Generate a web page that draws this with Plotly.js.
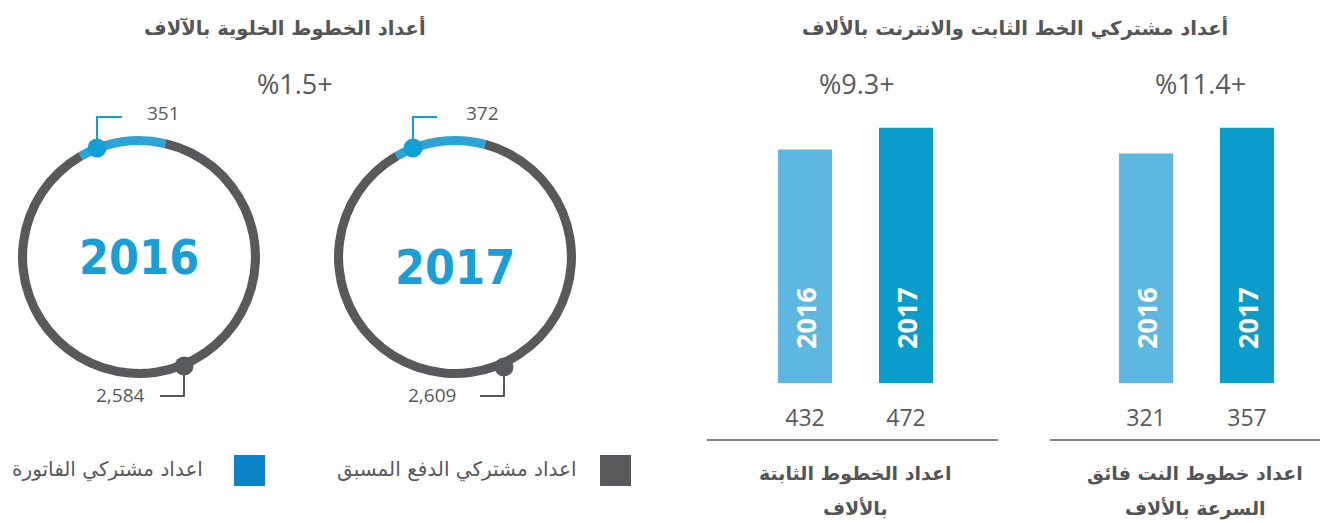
<!DOCTYPE html>
<html>
<head>
<meta charset="utf-8">
<script src="https://cdn.plot.ly/plotly-3.0.1.min.js"></script>
<style>html,body{margin:0;padding:0;background:#fff;}#chart{width:1320px;height:523px;}</style>
</head>
<body>
<div id="chart"></div>
<script>
// ---- data ----
const years = ['2016', '2017'];
const postpaidSubs = [351, 372];        // اعداد مشتركي الفاتورة (blue)
const prepaidSubs = [2584, 2609];       // اعداد مشتركي الدفع المسبق (grey)
const postpaidLabels = ['351', '372'];
const prepaidLabels = ['2,584', '2,609'];
const fixedLines = [432, 472];          // اعداد الخطوط الثابتة
const broadband = [321, 357];           // اعداد خطوط النت فائق السرعة
const sliceNames = ['اعداد مشتركي الفاتورة', 'اعداد مشتركي الدفع المسبق'];
const mobileTitle = 'أعداد الخطوط الخلوية بالآلاف';
const fixedTitle = 'أعداد مشتركي الخط الثابت والانترنت بالألاف';
const mobileChange = '%1.5+';
const fixedChange = '%9.3+';
const bbChange = '%11.4+';
const fixedCatLine1 = 'اعداد الخطوط الثابتة';
const fixedCatLine2 = 'بالألاف';
const bbCatLine1 = 'اعداد خطوط النت فائق';
const bbCatLine2 = 'السرعة بالألاف';

// ---- layout helpers (pixel -> paper) ----
const W = 1320, H = 523;
const px = x => x / W;
const py = y => 1 - y / H;

const GREY = '#58595b';
const TXT = '#58595b';
const ARC = '#2ea3d5';
const DOT = '#119fd6';
const font = 'Open Sans, DejaVu Sans, sans-serif';
const arFont = 'DejaVu Sans, Noto Sans, sans-serif';

const donutCenters = [[139, 257], [455, 257]];
const R = 121;

const traces = [];
years.forEach((yr, i) => {
  const [cx, cy] = donutCenters[i];
  traces.push({
    type: 'pie',
    values: [postpaidSubs[i], prepaidSubs[i]],
    labels: sliceNames,
    sort: false,
    direction: 'clockwise',
    rotation: -30,
    hole: 0.925,
    textinfo: 'none',
    hoverinfo: 'label+value',
    marker: {colors: [ARC, GREY], line: {width: 0}},
    domain: {x: [px(cx - R), px(cx + R)], y: [py(cy + R), py(cy - R)]},
    showlegend: false
  });
});

traces.push({
  type: 'bar', x: years, y: fixedLines, xaxis: 'x', yaxis: 'y',
  marker: {color: ['#5cb8e0', '#0b9dc9']}, hoverinfo: 'x+y', showlegend: false
});
traces.push({
  type: 'bar', x: years, y: broadband, xaxis: 'x2', yaxis: 'y2',
  marker: {color: ['#5cb8e0', '#0b9dc9']}, hoverinfo: 'x+y', showlegend: false
});

const barX = (ticktext, d0, d1) => ({
  domain: [px(d0), px(d1)], type: 'category', categoryarray: years, range: [-0.5, 1.5],
  tickvals: years, ticktext: ticktext,
  tickfont: {family: font, size: 23, color: TXT}, ticklabelstandoff: 19,
  showgrid: false, zeroline: false, showline: false, ticks: '', fixedrange: true
});
const barY = (max) => ({
  domain: [py(383), py(110)], range: [0, max], visible: false, fixedrange: true
});

const shapes = [];
const annotations = [];
const ann = (x, y, text, f, extra) => Object.assign({xref: 'paper', yref: 'paper', x: px(x), y: py(y), xanchor: 'center', yanchor: 'middle', text: text, showarrow: false, font: f}, extra || {});

// separator lines under bar groups
shapes.push({type: 'line', xref: 'paper', yref: 'paper', x0: px(707), x1: px(998), y0: py(440), y1: py(440), line: {color: GREY, width: 1.5}});
shapes.push({type: 'line', xref: 'paper', yref: 'paper', x0: px(1050), x1: px(1320), y0: py(440), y1: py(440), line: {color: GREY, width: 1.5}});

// donut callouts
const calloutDefs = [
  {blue: [97, 148], bend: 117, bEnd: 122, dark: [184, 366], dBend: 396, dEnd: 160, bLab: [163, 113], dLab: [121, 395]},
  {blue: [413, 148], bend: 117, bEnd: 437, dark: [504, 367], dBend: 396, dEnd: 480, bLab: [482, 113], dLab: [432, 395]}
];
const circ = (x, y, r, c) => ({type: 'circle', xref: 'paper', yref: 'paper', x0: px(x - r), x1: px(x + r), y0: py(y + r), y1: py(y - r), fillcolor: c, line: {width: 0}});
const pline = (pts, c) => ({type: 'path', xref: 'paper', yref: 'paper',
  path: 'M' + pts.map(p => px(p[0]) + ',' + py(p[1])).join(' L'), line: {color: c, width: 2}});

calloutDefs.forEach((d, i) => {
  shapes.push(pline([[d.blue[0], d.blue[1]], [d.blue[0], d.bend], [d.bEnd, d.bend]], DOT));
  shapes.push(pline([[d.dark[0], d.dark[1]], [d.dark[0], d.dBend], [d.dEnd, d.dBend]], GREY));
  shapes.push(circ(d.blue[0], d.blue[1], 9.5, DOT));
  shapes.push(circ(d.dark[0], d.dark[1], 9.5, GREY));
  annotations.push(ann(d.bLab[0], d.bLab[1], postpaidLabels[i], {family: font, size: 19, color: TXT}));
  annotations.push(ann(d.dLab[0], d.dLab[1], prepaidLabels[i], {family: font, size: 19, color: TXT}));
  // big year in centre
  annotations.push(ann(donutCenters[i][0], donutCenters[i][1] + (i ? 10 : 0), '<b>' + years[i] + '</b>',
    {family: 'DejaVu Sans Condensed, DejaVu Sans, sans-serif', size: 48, color: '#1a9ed6'}));
});

// titles
annotations.push(ann(285, 28, '<b>' + mobileTitle + '</b>', {family: arFont, size: 19.5, color: '#555'}));
annotations.push(ann(1015, 28, '<b>' + fixedTitle + '</b>', {family: arFont, size: 19.5, color: '#555'}));
// changes
annotations.push(ann(295, 83, mobileChange, {family: font, size: 27, color: TXT}));
annotations.push(ann(857, 83, fixedChange, {family: font, size: 27, color: TXT}));
annotations.push(ann(1200, 83, bbChange, {family: font, size: 27, color: TXT}));
// year labels inside bars
['x', 'x2'].forEach(ax => {
  years.forEach((yr, j) => {
    annotations.push({xref: ax, yref: 'paper', x: j, y: py(318), xanchor: 'center', yanchor: 'middle', text: '<b>' + yr + '</b>', textangle: -90, showarrow: false, font: {family: font, size: 27, color: '#fff'}});
  });
});
// category labels
annotations.push(ann(855, 473, '<b>' + fixedCatLine1 + '</b>', {family: arFont, size: 19, color: '#555'}));
annotations.push(ann(855, 508, '<b>' + fixedCatLine2 + '</b>', {family: arFont, size: 19, color: '#555'}));
annotations.push(ann(1195, 473, '<b>' + bbCatLine1 + '</b>', {family: arFont, size: 19, color: '#555'}));
annotations.push(ann(1195, 508, '<b>' + bbCatLine2 + '</b>', {family: arFont, size: 19, color: '#555'}));
// legend
shapes.push({type: 'rect', xref: 'paper', yref: 'paper', x0: px(600), x1: px(631), y0: py(486), y1: py(455), fillcolor: GREY, line: {width: 0}});
shapes.push({type: 'rect', xref: 'paper', yref: 'paper', x0: px(234), x1: px(265), y0: py(486), y1: py(455), fillcolor: '#0a82ca', line: {width: 0}});
annotations.push(ann(578, 469, sliceNames[1], {family: arFont, size: 20, color: TXT}, {xanchor: 'right'}));
annotations.push(ann(205, 469, sliceNames[0], {family: arFont, size: 20, color: TXT}, {xanchor: 'right'}));

const layout = {
  width: W, height: H, margin: {l: 0, r: 0, t: 0, b: 0},
  paper_bgcolor: '#fff', plot_bgcolor: 'rgba(0,0,0,0)',
  bargap: 0.465,
  xaxis: Object.assign(barX(fixedLines.map(String), 754.5, 956.5), {anchor: 'y'}),
  yaxis: Object.assign(barY(505), {anchor: 'x'}),
  xaxis2: Object.assign(barX(broadband.map(String), 1095.5, 1297.5), {anchor: 'y2'}),
  yaxis2: Object.assign(barY(382), {anchor: 'x2'}),
  shapes: shapes,
  annotations: annotations
};

Plotly.newPlot('chart', traces, layout, {displayModeBar: false, staticPlot: true});
</script>
</body>
</html>
